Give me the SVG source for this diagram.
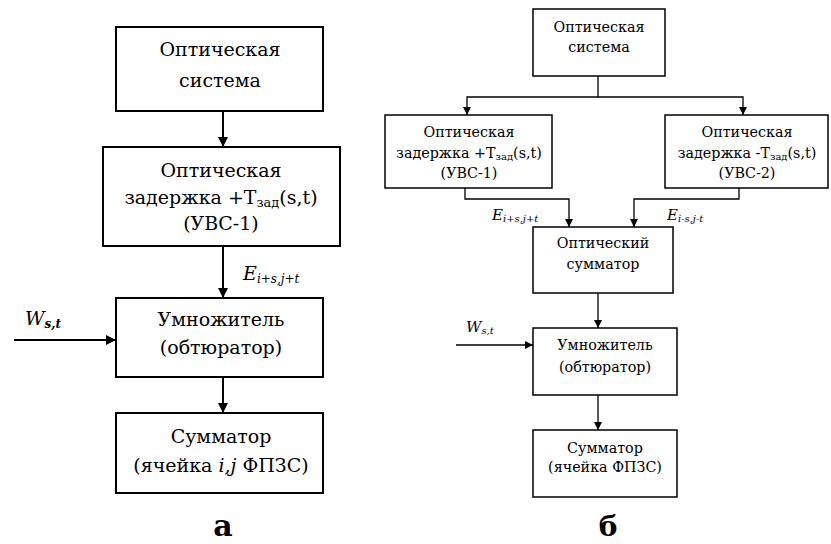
<svg xmlns="http://www.w3.org/2000/svg" width="831" height="544" viewBox="0 0 831 544">
<style>
.box{fill:#fff;stroke:#000;stroke-width:2}
.boxb{fill:#fff;stroke:#000;stroke-width:1.5}
.t{font-size:19px;fill:#000;text-anchor:middle}
.tb{font-size:14.3px;fill:#000;text-anchor:middle}
.lab{font-style:italic;fill:#000}
.cap{font-weight:bold;fill:#000;text-anchor:middle}
.ln{fill:none;stroke:#000;stroke-width:2}
.lnb{fill:none;stroke:#000;stroke-width:1.3}
</style>
<defs>
<marker id="ah" markerUnits="userSpaceOnUse" viewBox="0 0 10 10" refX="10" refY="5" markerWidth="11" markerHeight="10" orient="auto"><path d="M0,0 L10,5 L0,10 z" fill="#000"/></marker>
<marker id="ahb" markerUnits="userSpaceOnUse" viewBox="0 0 10 10" refX="10" refY="5" markerWidth="9" markerHeight="8" orient="auto"><path d="M0,0 L10,5 L0,10 z" fill="#000"/></marker>
</defs>
<rect width="831" height="544" fill="#fff"/>
<g font-family="DejaVu Serif, serif">
<g id="connectors">
<line class="ln" x1="223" y1="111" x2="223" y2="147" marker-end="url(#ah)"/>
<line class="ln" x1="223" y1="246" x2="223" y2="298" marker-end="url(#ah)"/>
<line class="ln" x1="14" y1="340" x2="116" y2="340" marker-end="url(#ah)"/>
<line class="ln" x1="223" y1="377" x2="223" y2="413" marker-end="url(#ah)"/>
<polyline class="lnb" points="598,76 598,97 467,97 467,115" marker-end="url(#ahb)"/>
<polyline class="lnb" points="598,97 743,97 743,115" marker-end="url(#ahb)"/>
<polyline class="lnb" points="465,188 465,199 569,199 569,227" marker-end="url(#ahb)"/>
<polyline class="lnb" points="739,188 739,199 634,199 634,227" marker-end="url(#ahb)"/>
<line class="lnb" x1="598" y1="293" x2="598" y2="328" marker-end="url(#ahb)"/>
<line class="lnb" x1="456" y1="345" x2="533" y2="345" marker-end="url(#ahb)"/>
<line class="lnb" x1="598" y1="395" x2="598" y2="430" marker-end="url(#ahb)"/>
<text class="lab" x="243" y="280" font-size="19">E<tspan font-size="12" dy="3">i+s,j+t</tspan></text>
<text class="lab" x="25" y="325" font-size="19">W<tspan font-size="12" dy="3" font-weight="bold">s,t</tspan></text>
<text class="lab" x="492" y="220" font-size="15">E<tspan font-size="10" dy="2">i+s,j+t</tspan></text>
<text class="lab" x="667" y="220" font-size="15">E<tspan font-size="10" dy="2">i-s,j-t</tspan></text>
<text class="lab" x="466" y="332" font-size="15">W<tspan font-size="10" dy="2">s,t</tspan></text>
</g>
<g id="a-optsys">
<rect class="box" x="116" y="27" width="207" height="84"/>
<text class="t" x="220" y="56">Оптическая</text>
<text class="t" x="220" y="87">система</text>
</g>
<g id="a-delay">
<rect class="box" x="103" y="147" width="237" height="99"/>
<text class="t" x="221" y="177">Оптическая</text>
<text class="t" x="221" y="204">задержка +T<tspan font-size="13" dy="3">зад</tspan><tspan dy="-3">(s,t)</tspan></text>
<text class="t" x="221" y="230">(УВС-1)</text>
</g>
<g id="a-mult">
<rect class="box" x="116" y="298" width="207" height="79"/>
<text class="t" x="221" y="326">Умножитель</text>
<text class="t" x="221" y="354">(обтюратор)</text>
</g>
<g id="a-sum">
<rect class="box" x="116" y="413" width="207" height="80"/>
<text class="t" x="221" y="443">Сумматор</text>
<text class="t" x="221" y="472">(ячейка <tspan font-style="italic">i,j</tspan> ФПЗС)</text>
</g>
<text class="cap" x="223" y="536" font-size="30">а</text>
<g id="b-optsys">
<rect class="boxb" x="533" y="9" width="132" height="67"/>
<text class="tb" x="599" y="32">Оптическая</text>
<text class="tb" x="599" y="52">система</text>
</g>
<g id="b-delay1">
<rect class="boxb" x="385" y="115" width="167" height="73"/>
<text class="tb" x="469" y="137">Оптическая</text>
<text class="tb" x="469" y="158">задержка +T<tspan font-size="10" dy="2">зад</tspan><tspan dy="-2">(s,t)</tspan></text>
<text class="tb" x="469" y="178">(УВС-1)</text>
</g>
<g id="b-delay2">
<rect class="boxb" x="665" y="115" width="163" height="73"/>
<text class="tb" x="747" y="137">Оптическая</text>
<text class="tb" x="747" y="158">задержка -T<tspan font-size="10" dy="2">зад</tspan><tspan dy="-2">(s,t)</tspan></text>
<text class="tb" x="747" y="178">(УВС-2)</text>
</g>
<g id="b-optsum">
<rect class="boxb" x="533" y="227" width="140" height="66"/>
<text class="tb" x="603" y="248">Оптический</text>
<text class="tb" x="603" y="269">сумматор</text>
</g>
<g id="b-mult">
<rect class="boxb" x="533" y="328" width="144" height="67"/>
<text class="tb" x="605" y="350">Умножитель</text>
<text class="tb" x="605" y="372">(обтюратор)</text>
</g>
<g id="b-sum">
<rect class="boxb" x="533" y="430" width="144" height="67"/>
<text class="tb" x="605" y="453">Сумматор</text>
<text class="tb" x="605" y="472">(ячейка ФПЗС)</text>
</g>
<text class="cap" x="608" y="536" font-size="28">б</text>
</g>
</svg>
